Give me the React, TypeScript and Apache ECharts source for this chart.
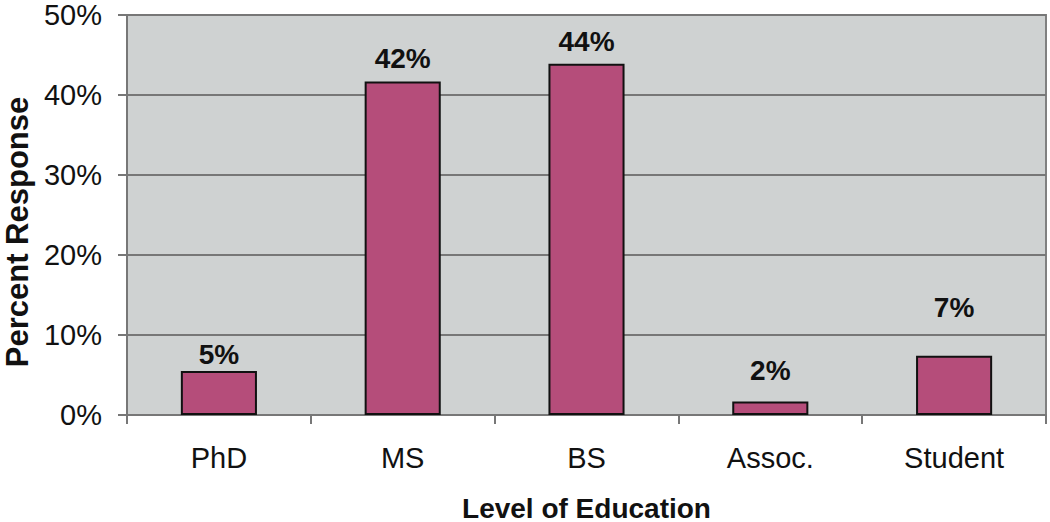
import React, { useEffect, useRef } from "react";
import * as echarts from "echarts";

const categories = ["PhD", "MS", "BS", "Assoc.", "Student"];
const values = [5.5, 41.7, 43.9, 1.7, 7.4];
const labels = ["5%", "42%", "44%", "2%", "7%"];
const labelGap = [3, 9, 8, 17, 34];
const yTicks = [0, 10, 20, 30, 40, 50];
const yTitle = "Percent Response";
const xTitle = "Level of Education";

export default function App() {
  const ref = useRef<HTMLDivElement>(null);
  useEffect(() => {
    if (!ref.current) return;
    const chart = echarts.init(ref.current, null, { renderer: "svg" });
    const font = "'Liberation Sans', Arial, sans-serif";
    chart.setOption({
      animation: false,
      grid: {
        left: 127,
        right: 4,
        top: 15,
        bottom: 107,
        show: true,
        backgroundColor: "#cfd2d2",
        borderColor: "#808080",
        borderWidth: 2,
        outerBoundsMode: "none",
        containLabel: false,
      },
      graphic: [
        {
          type: "text",
          x: 17,
          y: 232,
          rotation: Math.PI / 2,
          style: {
            text: yTitle,
            fontFamily: font,
            fontWeight: "bold",
            fontSize: 31,
            lineHeight: 30,
            fill: "#111",
            align: "center",
            verticalAlign: "middle",
          },
        },
      ],
      xAxis: {
        type: "category",
        data: categories,
        name: xTitle,
        nameLocation: "middle",
        nameGap: 80,
        nameTextStyle: {
          fontFamily: font,
          fontWeight: "bold",
          fontSize: 28,
          color: "#111",
          verticalAlign: "top",
          lineHeight: 26,
        },
        axisLine: { show: true, lineStyle: { color: "#777", width: 2 } },
        axisTick: { show: true, alignWithLabel: false, length: 9, lineStyle: { color: "#777", width: 2 } },
        axisLabel: { fontFamily: font, fontSize: 29, color: "#111", margin: 28 },
      },
      yAxis: {
        type: "value",
        min: 0,
        max: 50,
        interval: 10,
        axisLine: { show: true, lineStyle: { color: "#777", width: 2 } },
        axisTick: { show: true, length: 9, lineStyle: { color: "#777", width: 2 } },
        axisLabel: {
          fontFamily: font,
          fontSize: 29,
          lineHeight: 26,
          color: "#111",
          margin: 25,
          formatter: (v: number) => (yTicks.includes(v) ? v + "%" : ""),
        },
        splitLine: { show: true, lineStyle: { color: "#777", width: 2 } },
      },
      series: [
        {
          type: "bar",
          barWidth: "41.4%",
          data: values.map((v, i) => ({
            value: v,
            label: {
              show: true,
              position: "top",
              distance: labelGap[i],
              formatter: labels[i],
              fontFamily: font,
              fontWeight: "bold",
              fontSize: 28,
              color: "#111",
            },
          })),
          itemStyle: { color: "#b54d7a", borderColor: "#111", borderWidth: 2 },
        },
      ],
    });
    return () => chart.dispose();
  }, []);
  return <div ref={ref} style={{ width: 1050, height: 522, position: "absolute", left: 0, top: 0, background: "#fff" }} />;
}
